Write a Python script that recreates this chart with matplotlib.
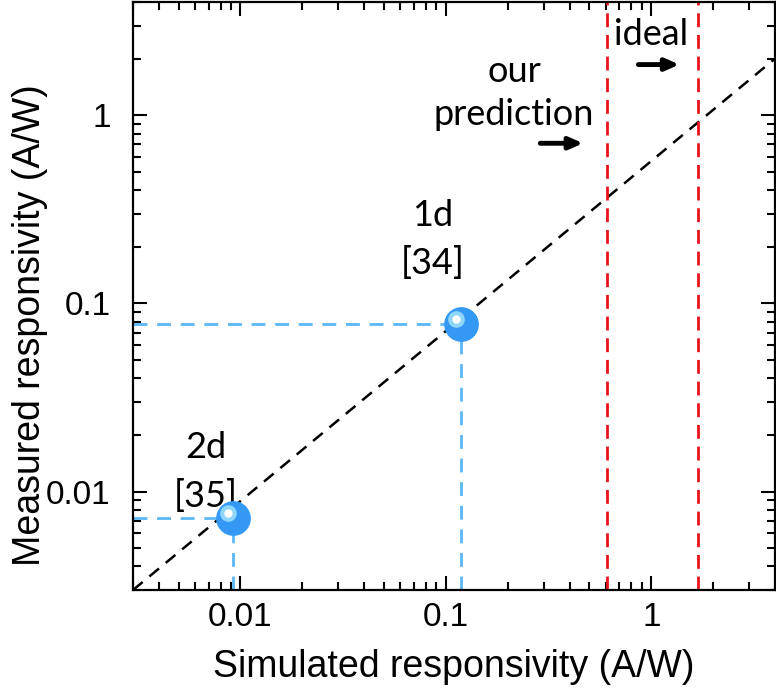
import numpy as np
import matplotlib
matplotlib.use("Agg")
import matplotlib.pyplot as plt
from matplotlib.ticker import LogLocator, NullFormatter, FixedLocator

plt.rcParams['font.family'] = ['Liberation Sans', 'DejaVu Sans']

# data
sim = [0.0092, 0.118]          # simulated responsivity (A/W)
meas = [0.0072, 0.078]         # measured responsivity (A/W)
diag_x = [0.003, 4.0]
diag_y = [0.003, 2.0]
pred_x = 0.61                  # our prediction
ideal_x = 1.69                 # ideal
xlim = (0.003, 4.0)
ylim = (0.003, 4.0)
ticks = [0.01, 0.1, 1]
tick_labels = ["0.01", "0.1", "1"]

blue = "#3399f5"
light_blue = "#5ab8f5"

fig = plt.figure(figsize=(7.76, 6.89), dpi=100)
ax = fig.add_axes([133 / 776, 99 / 689, 642 / 776, 588 / 689])
ax.set_xscale("log")
ax.set_yscale("log")
ax.set_xlim(*xlim)
ax.set_ylim(*ylim)

# diagonal
ax.plot(diag_x, diag_y, color="black", lw=1.8, ls=(0, (5, 3.5)), zorder=2)

# red vertical lines
for xv in [pred_x, ideal_x]:
    ax.axvline(xv, color="#e8141c", lw=2, ls=(0, (5, 2.8)), zorder=2)

# guide lines to axes
for sx, my in zip(sim, meas):
    ax.plot([xlim[0], sx], [my, my], color=light_blue, lw=2, ls=(0, (5, 3.5)), zorder=2)
    ax.plot([sx, sx], [ylim[0], my], color=light_blue, lw=2, ls=(0, (5, 3.5)), zorder=2)

# points with a glossy highlight
for sx, my in zip(sim, meas):
    ax.plot(sx, my, "o", ms=25, color=blue, mec="none", zorder=4)
    hx = sx * 10 ** (-5 / 205.5)
    hy = my * 10 ** (5 / 188.8)
    ax.plot(hx, hy, "o", ms=12, color="#8fd6fb", mec="none", zorder=5)
    ax.plot(hx, hy, "o", ms=6, color="white", mec="none", zorder=6)

# annotation texts
tfont = dict(family=["Lato", "DejaVu Sans"], fontsize=26, ha="center", va="center")
ax.text(0.00676, 0.0172, "2d", **tfont)
ax.text(0.00676, 0.0095, "[35]", **tfont)
ax.text(0.086, 0.292, "1d", **tfont)
ax.text(0.086, 0.164, "[34]", **tfont)
ax.text(0.215, 1.71, "our", **tfont)
ax.text(0.215, 1.01, "prediction", **tfont)
ax.text(1.0, 2.69, "ideal", **tfont)

# arrows
arr = dict(arrowstyle="-|>,head_length=0.8,head_width=0.35", color="black", lw=3.5,
           shrinkA=0, shrinkB=0)
ax.annotate("", xy=(0.466, 0.71), xytext=(0.288, 0.71), arrowprops=arr)
ax.annotate("", xy=(1.37, 1.86), xytext=(0.865, 1.86), arrowprops=arr)

# ticks
for axis in [ax.xaxis, ax.yaxis]:
    axis.set_major_locator(FixedLocator(ticks))
    axis.set_minor_locator(LogLocator(base=10, subs=np.arange(2, 10), numticks=20))
    axis.set_minor_formatter(NullFormatter())
ax.set_xticklabels(tick_labels)
ax.set_yticklabels(tick_labels)
ax.tick_params(which="both", direction="in", top=True, right=True, width=1.5, labelsize=24)
ax.tick_params(which="major", length=10)
ax.tick_params(which="minor", length=6)
ax.tick_params(axis="x", which="major", pad=9)
ax.tick_params(axis="y", which="major", pad=16)
for s in ax.spines.values():
    s.set_linewidth(1.6)

ax.set_xlabel("Simulated responsivity (A/W)", fontsize=27)
ax.set_ylabel("Measured responsivity (A/W)", fontsize=27)
ax.xaxis.set_label_coords(0.5, -0.10)
ax.yaxis.set_label_coords(-0.132, 0.45)

fig.savefig("out.png", dpi=100)
